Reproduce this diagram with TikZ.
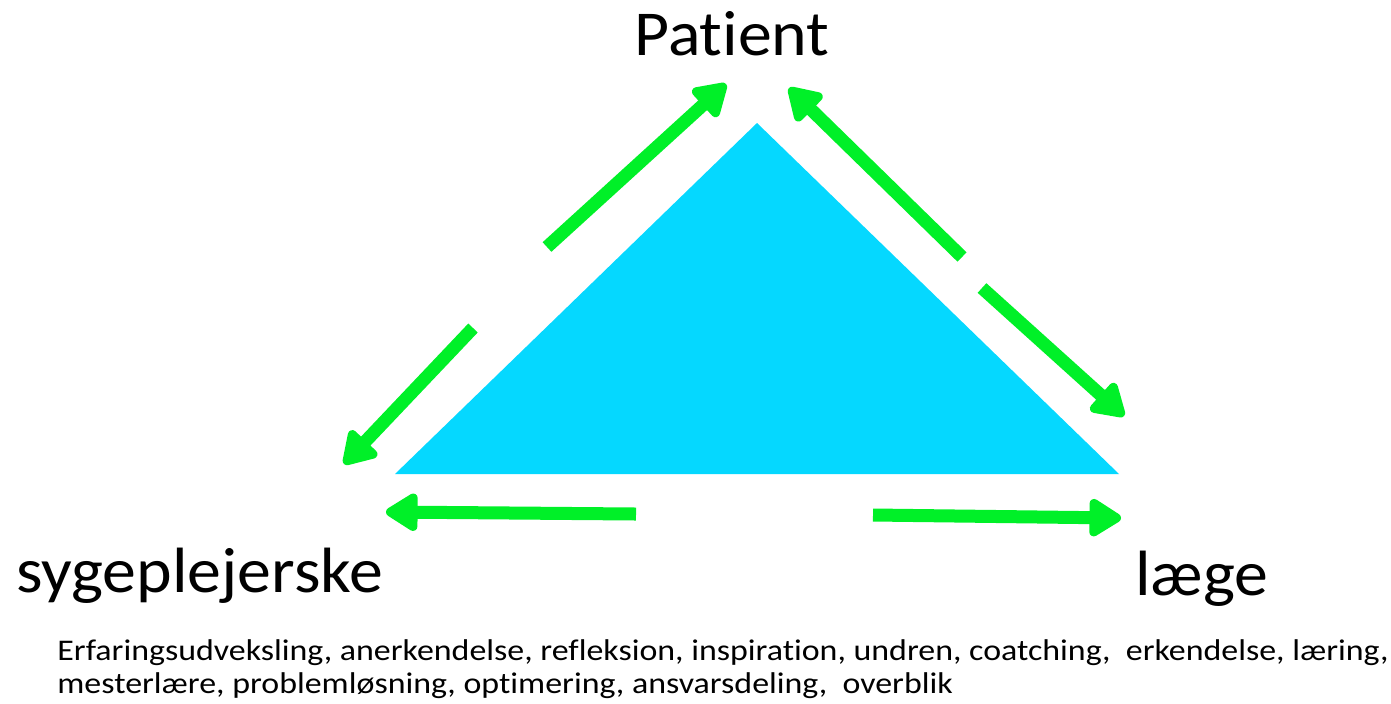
\documentclass[tikz,border=0pt]{standalone}
\usepackage{fontspec}
\setmainfont{Carlito}
\newfontfamily\bigfont[FakeStretch=1.06,RawFeature=-liga]{Carlito}
\newfontfamily\smallfont[FakeStretch=1.13,RawFeature=-liga]{Carlito}
\usetikzlibrary{arrows.meta}
\definecolor{tricyan}{RGB}{5,216,255}
\definecolor{arrgreen}{RGB}{0,240,40}
\begin{document}
\begin{tikzpicture}[x=0.5pt,y=-0.5pt,
  bigtext/.style={inner sep=0pt,anchor=base west,font=\bigfont\fontsize{32}{38}\selectfont},
  smalltext/.style={inner sep=0pt,anchor=base west,font=\smallfont\fontsize{15}{18}\selectfont},
  grarrow/.style={draw=arrgreen,line width=6.5pt,-{Triangle[width=21pt,length=18pt,round]}}]
\useasboundingbox (0,0) rectangle (1391,703);
\fill[white] (0,0) rectangle (1391,703);
% triangle
\coordinate (apex) at (757,123);
\coordinate (bl) at (395,474);
\coordinate (br) at (1119,474);
\fill[tricyan] (apex) -- (br) -- (bl) -- cycle;
% arrow end points
\coordinate (a1s) at (547,247);   \coordinate (a1e) at (726,84);
\coordinate (a2s) at (473,328);   \coordinate (a2e) at (344,464);
\coordinate (a3s) at (962,257);   \coordinate (a3e) at (789,88);
\coordinate (a4s) at (982,288);   \coordinate (a4e) at (1124,416);
\coordinate (a5s) at (636,514);   \coordinate (a5e) at (386,512);
\coordinate (a6s) at (873,515);   \coordinate (a6e) at (1121,518);
\draw[grarrow] (a1s) -- (a1e);
\draw[grarrow] (a2s) -- (a2e);
\draw[grarrow] (a3s) -- (a3e);
\draw[grarrow] (a4s) -- (a4e);
\draw[grarrow] (a5s) -- (a5e);
\draw[grarrow] (a6s) -- (a6e);
% labels
\node[bigtext] (patient) at (634,55) {Patient};
\node[bigtext] (syg) at (16,592) {sygeplejerske};
\node[bigtext] (laege) at (1135,595) {læge};
\node[smalltext] (l1) at (57,660) {Erfaringsudveksling, anerkendelse, refleksion, inspiration, undren, coatching,\ \ erkendelse, læring,};
\node[smalltext] (l2) at (57,693) {mesterlære, problemløsning, optimering, ansvarsdeling,\ \ overblik};
\end{tikzpicture}
\end{document}
